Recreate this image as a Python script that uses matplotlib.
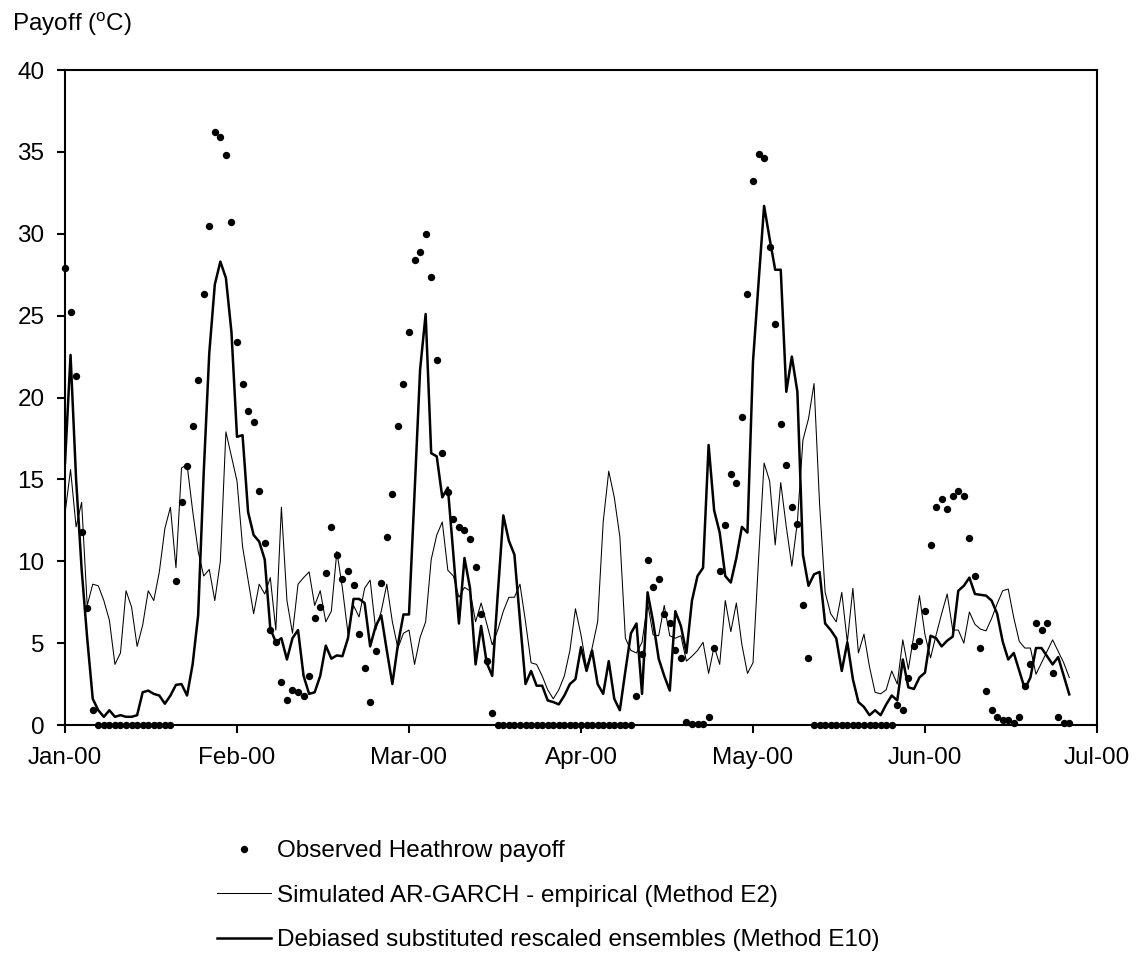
import numpy as np
import matplotlib
matplotlib.use("Agg")
import matplotlib.pyplot as plt

plt.rcParams['font.family'] = ['Liberation Sans', 'DejaVu Sans']
plt.rcParams['mathtext.fontset'] = 'custom'
plt.rcParams['mathtext.rm'] = 'Liberation Sans'

# ---- data (daily, 1 Jan 2000 .. 30 Jun 2000) ----
observed = [
    27.9, 25.2, 21.3, 11.8, 7.15, 0.9,
    0, 0, 0, 0, 0, 0, 0, 0, 0, 0, 0, 0, 0, 0,
    8.8, 13.6, 15.8, 18.25, 21.05, 26.3, 30.5, 36.2, 35.9, 34.8,
    30.7, 23.4, 20.8, 19.2, 18.5, 14.3, 11.1, 5.8, 5.05, 2.6,
    1.5, 2.15, 2.0, 1.75, 3.0, 6.55, 7.2, 9.3, 12.1, 10.4,
    8.9, 9.4, 8.55, 5.55, 3.5, 1.4, 4.5, 8.65, 11.5, 14.1,
    18.25, 20.8, 24.0, 28.4, 28.9, 30.0, 27.35, 22.3, 16.6, 14.2,
    12.6, 12.1, 11.9, 11.35, 9.65, 6.8, 3.9, 0.75,
    0, 0, 0, 0, 0, 0, 0, 0, 0, 0, 0, 0, 0, 0, 0, 0, 0, 0, 0, 0, 0, 0, 0, 0, 0,
    1.77, 4.35, 10.1, 8.4, 8.9, 6.8, 6.2,
    4.6, 4.1, 0.2, 0.08, 0.05, 0.05, 0.5, 4.7, 9.4, 12.2,
    15.3, 14.8, 18.8, 26.3, 33.2, 34.9, 34.6, 29.2, 24.5, 18.4,
    15.9, 13.3, 12.3, 7.3, 4.1,
    0, 0, 0, 0, 0, 0, 0, 0, 0, 0, 0, 0, 0, 0, 0,
    1.2, 0.94, 2.9, 4.8, 5.1, 6.95, 11.0, 13.3, 13.8, 13.2,
    14.0, 14.3, 14.0, 11.4, 9.1, 4.7, 2.1, 0.9, 0.5, 0.3,
    0.3, 0.1, 0.5, 2.4, 3.7, 6.2, 5.8, 6.2, 3.2, 0.5,
    0.1, 0.1,
]

method_e2 = [
    12.9, 15.6, 12.1, 13.6, 7.3, 8.6, 8.5, 7.6, 6.4, 3.7,
    4.4, 8.2, 7.2, 4.8, 6.1, 8.2, 7.6, 9.35, 12.0, 13.3,
    9.6, 15.7, 15.9, 13.1, 10.6, 9.1, 9.5, 7.6, 10.0, 17.9,
    16.4, 14.9, 10.9, 8.85, 6.8, 8.6, 8.0, 9.0, 5.8, 13.3,
    7.6, 5.6, 8.6, 9.0, 9.35, 7.3, 8.2, 6.3, 6.95, 10.6,
    8.35, 5.6, 7.3, 6.6, 8.35, 8.85, 5.8, 6.95, 8.6, 6.3,
    4.7, 5.6, 5.8, 3.7, 5.35, 6.3, 10.1, 11.6, 12.4, 9.45,
    9.1, 7.8, 8.4, 8.2, 6.3, 7.45, 6.2, 4.9, 5.8, 6.95,
    7.8, 7.8, 8.6, 6.3, 3.8, 3.7, 3.0, 2.15, 1.6, 2.15,
    3.0, 4.55, 7.1, 5.5, 3.5, 4.7, 6.3, 12.4, 15.5, 13.9,
    11.5, 5.3, 4.55, 4.4, 5.05, 7.45, 5.5, 5.45, 7.3, 5.45,
    5.3, 5.45, 3.9, 4.2, 4.55, 5.05, 3.15, 4.8, 3.7, 7.6,
    5.7, 7.45, 4.9, 3.15, 3.8, 10.1, 16.0, 14.9, 11.0, 14.8,
    12.1, 9.7, 12.4, 17.4, 18.7, 20.85, 13.5, 8.1, 6.8, 6.3,
    8.1, 5.05, 8.35, 4.4, 5.55, 3.55, 2.0, 1.9, 2.15, 3.3,
    2.5, 5.2, 3.4, 5.5, 7.9, 5.5, 4.1, 5.5, 6.8, 8.0,
    5.8, 5.8, 5.0, 6.9, 6.15, 5.85, 5.75, 6.5, 7.4, 8.2,
    8.3, 6.55, 5.1, 4.7, 4.7, 3.1, 3.8, 4.5, 5.2, 4.5,
    3.8, 2.9,
]

method_e10 = [
    16.0, 22.6, 15.0, 9.5, 5.3, 1.6, 0.9, 0.5, 0.9, 0.5,
    0.6, 0.5, 0.5, 0.6, 2.0, 2.1, 1.9, 1.8, 1.3, 1.8,
    2.45, 2.5, 1.8, 3.7, 6.7, 15.4, 22.7, 26.9, 28.3, 27.3,
    24.0, 17.6, 17.7, 13.0, 11.6, 11.2, 10.1, 5.9, 5.05, 5.3,
    4.0, 5.3, 5.8, 3.0, 1.9, 2.0, 3.0, 4.85, 4.05, 4.25,
    4.2, 5.3, 7.7, 7.7, 7.45, 4.8, 6.05, 6.7, 4.55, 2.5,
    4.9, 6.75, 6.75, 14.15, 21.7, 25.1, 16.6, 16.4, 13.9, 14.5,
    10.4, 6.2, 10.2, 8.35, 3.7, 6.05, 3.8, 3.0, 8.0, 12.8,
    11.25, 10.4, 6.4, 2.5, 3.3, 2.4, 2.4, 1.5, 1.4, 1.26,
    1.8, 2.5, 2.8, 4.75, 3.3, 4.55, 2.5, 1.9, 3.9, 1.6,
    0.9, 3.3, 5.6, 6.2, 1.9, 8.1, 6.3, 4.05, 3.0, 2.1,
    6.95, 6.05, 4.4, 7.6, 9.1, 9.6, 17.1, 13.1, 11.75, 9.1,
    8.7, 10.2, 12.1, 11.75, 22.2, 27.0, 31.7, 29.7, 27.8, 27.8,
    20.35, 22.5, 20.35, 10.4, 8.5, 9.2, 9.35, 6.2, 5.8, 5.3,
    3.3, 5.05, 2.8, 1.4, 1.1, 0.6, 0.9, 0.6, 1.25, 1.8,
    1.5, 4.0, 2.3, 2.2, 2.9, 3.2, 5.45, 5.3, 4.8, 5.15,
    5.4, 8.2, 8.5, 9.0, 8.0, 7.95, 7.9, 7.6, 6.8, 5.1,
    4.0, 4.4, 3.3, 2.2, 2.9, 4.7, 4.7, 4.2, 3.7, 4.15,
    3.0, 1.87,
]

tick_labels = ["Jan-00", "Feb-00", "Mar-00", "Apr-00", "May-00", "Jun-00", "Jul-00"]
tick_days = [0, 31, 62, 93, 124, 155, 186]

labels = ["Observed Heathrow payoff",
          "Simulated AR-GARCH - empirical (Method E2)",
          "Debiased substituted rescaled ensembles (Method E10)"]

# ---- figure ----
W, H = 1141, 955
fig = plt.figure(figsize=(W / 100, H / 100), dpi=100)
left, right, top, bottom = 65, 1097, 70, 725
ax = fig.add_axes([left / W, 1 - bottom / H, (right - left) / W, (bottom - top) / H])

days = np.arange(len(observed))
h_thin, = ax.plot(days, method_e2, color='black', lw=0.75, zorder=2)
h_thick, = ax.plot(days, method_e10, color='black', lw=1.8, zorder=2.2)
h_obs, = ax.plot(days, observed, 'o', color='black', ms=5.3, mew=0, zorder=3,
                 clip_on=False)

ax.set_xlim(0, 186)
ax.set_ylim(0, 40)
ax.set_xticks(tick_days)
ax.set_xticklabels(tick_labels)
ax.set_yticks(np.arange(0, 41, 5))

for s in ax.spines.values():
    s.set_linewidth(1.5)
    s.set_color('black')

ax.tick_params(axis='both', direction='out', length=5.8, width=1.5,
               labelsize=17.5, pad=9, colors='black')
ax.tick_params(axis='x', pad=10)

fig.text(11.7 / W, 1 - 24 / H, 'Payoff ($\\mathregular{^o}$C)', fontsize=17.5,
         ha='left', va='center')

leg = fig.legend([h_obs, h_thin, h_thick], labels,
                 loc='upper left', bbox_to_anchor=(216.7 / W, 1 - 840 / H),
                 frameon=False, fontsize=17.5, handlelength=2.23,
                 handletextpad=0.25, labelspacing=0.93, borderpad=0,
                 borderaxespad=0, numpoints=1)

fig.savefig('out.png', dpi=100)
